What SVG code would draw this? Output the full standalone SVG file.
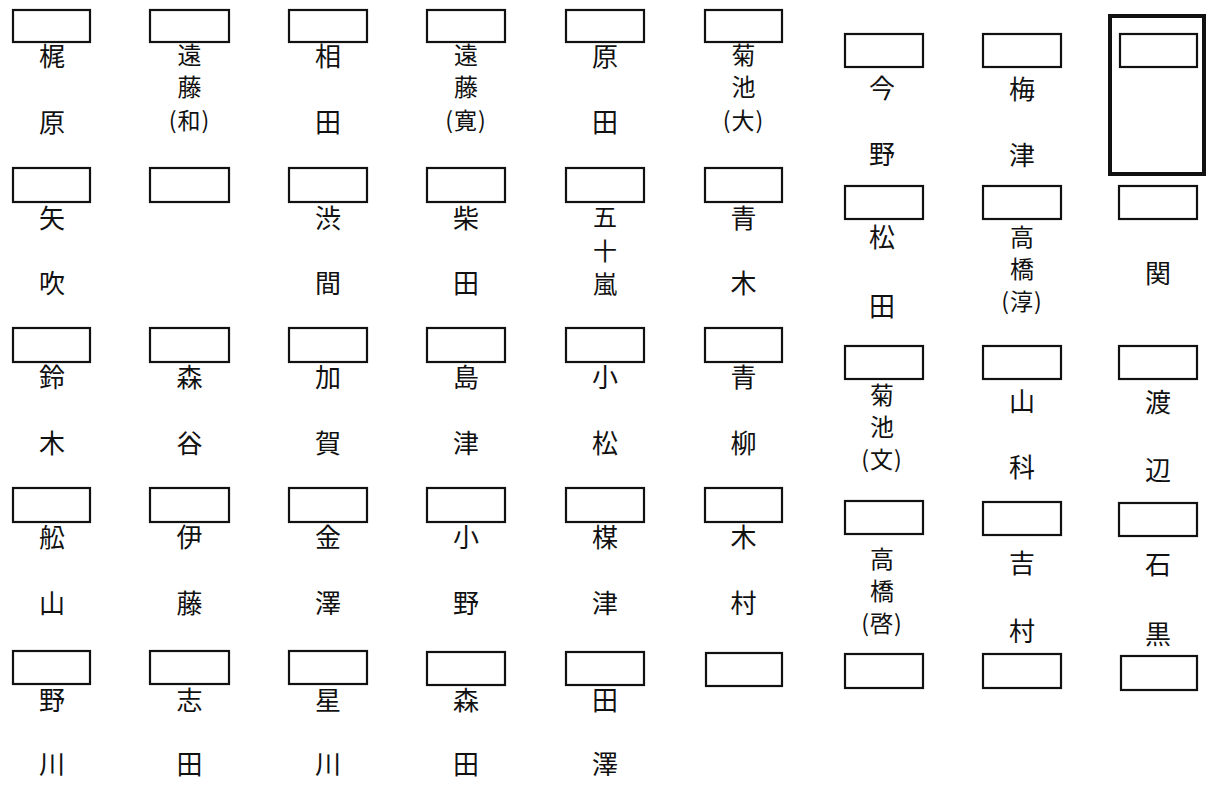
<svg xmlns="http://www.w3.org/2000/svg" width="1208" height="787" viewBox="0 0 1208 787">
<style>
.bx{fill:#fff;stroke:#111;stroke-width:2.2}
.fr{fill:none;stroke:#111;stroke-width:4}
text{font-family:"Noto Sans CJK JP","Noto Sans CJK SC",sans-serif;font-size:26px;fill:#111;text-anchor:middle}
text.st{font-size:24px}
text.pr{font-size:23px;letter-spacing:1px}
</style>
<rect width="1208" height="787" fill="#fff"/>
<g id="s-kajiwara"><rect class="bx" x="13" y="10" width="77" height="32"/><text x="52" y="66">梶</text><text x="52" y="132">原</text></g>
<g id="s-endo-kazu"><rect class="bx" x="150" y="10" width="79" height="32"/><text class="st" x="189.5" y="64">遠</text><text class="st" x="189.5" y="96">藤</text><text class="pr" x="189.5" y="129">(和)</text></g>
<g id="s-aida"><rect class="bx" x="289" y="10" width="78" height="32"/><text x="328" y="66">相</text><text x="328" y="132">田</text></g>
<g id="s-endo-hiro"><rect class="bx" x="427" y="10" width="78" height="32"/><text class="st" x="466" y="64">遠</text><text class="st" x="466" y="96">藤</text><text class="pr" x="466" y="129">(寛)</text></g>
<g id="s-harada"><rect class="bx" x="566" y="10" width="78" height="32"/><text x="605" y="66">原</text><text x="605" y="132">田</text></g>
<g id="s-kikuchi-dai"><rect class="bx" x="705" y="10" width="77" height="32"/><text class="st" x="743.5" y="64">菊</text><text class="st" x="743.5" y="96">池</text><text class="pr" x="743.5" y="129">(大)</text></g>

<g id="s-yabuki"><rect class="bx" x="13" y="168" width="77" height="34"/><text x="52" y="228">矢</text><text x="52" y="293">吹</text></g>
<g id="s-empty-r2c2"><rect class="bx" x="150" y="168" width="79" height="34"/></g>
<g id="s-shibuma"><rect class="bx" x="289" y="168" width="78" height="34"/><text x="328" y="228">渋</text><text x="328" y="293">間</text></g>
<g id="s-shibata"><rect class="bx" x="427" y="168" width="78" height="34"/><text x="466" y="228">柴</text><text x="466" y="293">田</text></g>
<g id="s-igarashi"><rect class="bx" x="566" y="168" width="78" height="34"/><text class="st" x="605" y="226">五</text><text class="st" x="605" y="260">十</text><text class="st" x="605" y="293">嵐</text></g>
<g id="s-aoki"><rect class="bx" x="705" y="168" width="77" height="34"/><text x="743.5" y="228">青</text><text x="743.5" y="293">木</text></g>

<g id="s-suzuki"><rect class="bx" x="13" y="328" width="77" height="34"/><text x="52" y="387">鈴</text><text x="52" y="453">木</text></g>
<g id="s-moriya"><rect class="bx" x="150" y="328" width="79" height="34"/><text x="189.5" y="387">森</text><text x="189.5" y="453">谷</text></g>
<g id="s-kaga"><rect class="bx" x="289" y="328" width="78" height="34"/><text x="328" y="387">加</text><text x="328" y="453">賀</text></g>
<g id="s-shimazu"><rect class="bx" x="427" y="328" width="78" height="34"/><text x="466" y="387">島</text><text x="466" y="453">津</text></g>
<g id="s-komatsu"><rect class="bx" x="566" y="328" width="78" height="34"/><text x="605" y="387">小</text><text x="605" y="453">松</text></g>
<g id="s-aoyagi"><rect class="bx" x="705" y="328" width="77" height="34"/><text x="743.5" y="387">青</text><text x="743.5" y="453">柳</text></g>

<g id="s-funayama"><rect class="bx" x="13" y="488" width="77" height="34"/><text x="52" y="547">舩</text><text x="52" y="613">山</text></g>
<g id="s-ito"><rect class="bx" x="150" y="488" width="79" height="34"/><text x="189.5" y="547">伊</text><text x="189.5" y="613">藤</text></g>
<g id="s-kanazawa"><rect class="bx" x="289" y="488" width="78" height="34"/><text x="328" y="547">金</text><text x="328" y="613">澤</text></g>
<g id="s-ono"><rect class="bx" x="427" y="488" width="78" height="34"/><text x="466" y="547">小</text><text x="466" y="613">野</text></g>
<g id="s-motozu"><rect class="bx" x="566" y="488" width="78" height="34"/><text x="605" y="547">楳</text><text x="605" y="613">津</text></g>
<g id="s-kimura"><rect class="bx" x="705" y="488" width="77" height="34"/><text x="743.5" y="547">木</text><text x="743.5" y="613">村</text></g>

<g id="s-nogawa"><rect class="bx" x="13" y="651" width="77" height="33"/><text x="52" y="710">野</text><text x="52" y="774">川</text></g>
<g id="s-shida"><rect class="bx" x="150" y="651" width="79" height="33"/><text x="189.5" y="710">志</text><text x="189.5" y="774">田</text></g>
<g id="s-hoshikawa"><rect class="bx" x="289" y="651" width="78" height="33"/><text x="328" y="710">星</text><text x="328" y="774">川</text></g>
<g id="s-morita"><rect class="bx" x="427" y="652" width="78" height="33"/><text x="466" y="710">森</text><text x="466" y="774">田</text></g>
<g id="s-tazawa"><rect class="bx" x="566" y="652" width="78" height="33"/><text x="605" y="710">田</text><text x="605" y="774">澤</text></g>
<g id="s-empty-r5c6"><rect class="bx" x="706" y="653" width="76" height="33"/></g>

<g id="s-imano"><rect class="bx" x="845" y="34" width="78" height="33"/><text x="882" y="98">今</text><text x="882" y="164">野</text></g>
<g id="s-umezu"><rect class="bx" x="983" y="34" width="78" height="33"/><text x="1022" y="99">梅</text><text x="1022" y="165">津</text></g>
<g id="s-head"><rect class="fr" x="1110" y="16" width="94" height="158"/><rect class="bx" x="1120" y="34" width="77" height="33"/></g>

<g id="s-matsuda"><rect class="bx" x="845" y="186" width="78" height="33"/><text x="882" y="247">松</text><text x="882" y="316">田</text></g>
<g id="s-takahashi-jun"><rect class="bx" x="983" y="186" width="78" height="33"/><text class="st" x="1022" y="246">高</text><text class="st" x="1022" y="278">橋</text><text class="pr" x="1022" y="310">(淳)</text></g>
<g id="s-seki"><rect class="bx" x="1119" y="186" width="78" height="33"/><text x="1158" y="283">関</text></g>

<g id="s-kikuchi-fumi"><rect class="bx" x="845" y="346" width="78" height="33"/><text class="st" x="882" y="404">菊</text><text class="st" x="882" y="436">池</text><text class="pr" x="882" y="468">(文)</text></g>
<g id="s-yamashina"><rect class="bx" x="983" y="346" width="78" height="33"/><text x="1022" y="411">山</text><text x="1022" y="477">科</text></g>
<g id="s-watanabe"><rect class="bx" x="1119" y="346" width="78" height="33"/><text x="1158" y="412">渡</text><text x="1158" y="480">辺</text></g>

<g id="s-takahashi-kei"><rect class="bx" x="845" y="501" width="78" height="33"/><text class="st" x="882" y="568">高</text><text class="st" x="882" y="600">橋</text><text class="pr" x="882" y="632">(啓)</text></g>
<g id="s-yoshimura"><rect class="bx" x="983" y="502" width="78" height="33"/><text x="1022" y="573">吉</text><text x="1022" y="641">村</text></g>
<g id="s-ishiguro"><rect class="bx" x="1119" y="503" width="78" height="33"/><text x="1158" y="574">石</text><text x="1158" y="644">黒</text></g>

<g id="s-empty-r5c7"><rect class="bx" x="845" y="654" width="78" height="34"/></g>
<g id="s-empty-r5c8"><rect class="bx" x="983" y="654" width="78" height="34"/></g>
<g id="s-empty-r5c9"><rect class="bx" x="1121" y="656" width="76" height="34"/></g>
</svg>
